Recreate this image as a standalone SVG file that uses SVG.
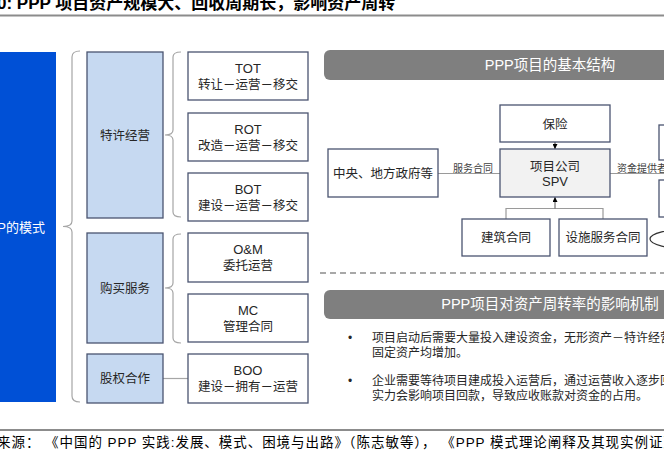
<svg xmlns="http://www.w3.org/2000/svg" width="664" height="461" viewBox="0 0 664 461">
<style>
text{font-family:"Liberation Sans","Noto Sans CJK SC",sans-serif;fill:#262626}
.t{font-size:13px;text-anchor:middle}
.c{font-size:12.5px;text-anchor:middle}
.cat{fill:#c6d9f1;stroke:#4a5470;stroke-width:1.3}
.box{fill:#fff;stroke:#4a5470;stroke-width:1.3}
.brk{fill:none;stroke:#a6a6a6;stroke-width:1.2}
.ln{fill:none;stroke:#9a9a9a;stroke-width:1.2}
.hdr{fill:#7f7f7f}
.ht{font-size:14.5px;fill:#fff;text-anchor:middle}
.lbl{font-size:10px;fill:#404040}
.bt{font-size:12px}
.rule{stroke:#8c8c8c;stroke-width:2}
</style>
<defs>
<marker id="ah" viewBox="0 0 10 10" refX="10" refY="5" markerWidth="5" markerHeight="5" orient="auto-start-reverse" markerUnits="userSpaceOnUse">
<path d="M0,0L10,5L0,10z" fill="#000"/>
</marker>
</defs>
<text x="-3" y="9" style="font-size:17px;font-weight:bold;fill:#000">0: PPP 项目资产规模大、回收周期长，影响资产周转</text>
<line class="rule" x1="0" y1="15.5" x2="664" y2="15.5"/>

<g id="ppp-mode">
<rect x="-10" y="52" width="66" height="350" fill="#0050d6"/>
<text x="45" y="231.5" style="font-size:13px;fill:#fff;text-anchor:end">PPP的模式</text>
</g>

<g id="brackets">
<path class="brk" d="M80,51 Q72,51 72,57 L72,221 Q72,226.5 63,226.5 Q72,226.5 72,232 L72,396 Q72,402 80,402"/>
<path class="brk" d="M181,52 Q173,52 173,57 L173,130 Q173,135 165,135 Q173,135 173,140 L173,212 Q173,217 181,217"/>
<path class="brk" d="M181,234 Q173,234 173,239 L173,283 Q173,288 165,288 Q173,288 173,293 L173,338 Q173,343 181,343"/>
<line class="brk" x1="163" y1="378.5" x2="188" y2="378.5"/>
</g>

<g id="cat-texu"><rect class="cat" x="87" y="52" width="76" height="166"/><text class="c" x="125" y="139.5">特许经营</text></g>
<g id="cat-goumai"><rect class="cat" x="87" y="233" width="76" height="110"/><text class="c" x="125" y="292.5">购买服务</text></g>
<g id="cat-guquan"><rect class="cat" x="87" y="354" width="76" height="49"/><text class="c" x="125" y="383">股权合作</text></g>

<g id="tot"><rect class="box" x="188" y="52" width="120" height="48"/><text class="t" x="248" y="72.5">TOT</text><text class="c" x="248" y="88.5">转让－运营－移交</text></g>
<g id="rot"><rect class="box" x="188" y="113" width="120" height="48"/><text class="t" x="248" y="134">ROT</text><text class="c" x="248" y="150">改造－运营－移交</text></g>
<g id="bot"><rect class="box" x="188" y="173" width="120" height="48"/><text class="t" x="248" y="194">BOT</text><text class="c" x="248" y="210">建设－运营－移交</text></g>
<g id="om"><rect class="box" x="188" y="233" width="120" height="49"/><text class="t" x="248" y="254">O&amp;M</text><text class="c" x="248" y="270">委托运营</text></g>
<g id="mc"><rect class="box" x="188" y="294" width="120" height="48"/><text class="t" x="248" y="315">MC</text><text class="c" x="248" y="331">管理合同</text></g>
<g id="boo"><rect class="box" x="188" y="354" width="120" height="49"/><text class="t" x="248" y="375">BOO</text><text class="c" x="248" y="391">建设－拥有－运营</text></g>

<g id="hdr1"><rect class="hdr" x="324" y="50" width="380" height="30" rx="6"/><text class="ht" x="550" y="70">PPP项目的基本结构</text></g>

<g id="connectors">
<line x1="555" y1="142" x2="555" y2="149" stroke="#333" stroke-width="1" marker-end="url(#ah)"/>
<line class="ln" x1="438" y1="173.5" x2="500" y2="173.5"/>
<line class="ln" x1="610" y1="173.5" x2="664" y2="173.5"/>
<path class="ln" d="M506,219 V208.5 H603 V219"/>
<line x1="555" y1="208.5" x2="555" y2="197" stroke="#555" stroke-width="1" marker-end="url(#ah)"/>
<text class="lbl" x="453" y="171.5">服务合同</text>
<text class="lbl" x="617" y="171.5">资金提供者</text>
</g>

<g id="baoxian"><rect class="box" x="500" y="105" width="110" height="37"/><text class="c" x="555" y="128.5">保险</text></g>
<g id="spv"><rect x="500" y="149" width="110" height="48" fill="#f2f2f2" stroke="#4a5470" stroke-width="1.3"/><text class="c" x="555" y="171">项目公司</text><text class="t" x="555" y="186">SPV</text></g>
<g id="gov"><rect class="box" x="328" y="149" width="110" height="48"/><text class="c" x="383" y="177.5">中央、地方政府等</text></g>
<g id="jianzhu"><rect class="box" x="462" y="219" width="88" height="37"/><text class="c" x="506" y="242">建筑合同</text></g>
<g id="sheshi"><rect class="box" x="559" y="219" width="88" height="37"/><text class="c" x="603" y="242">设施服务合同</text></g>
<g id="right1"><rect class="box" x="659" y="125" width="40" height="35"/></g>
<g id="right2"><rect class="box" x="659" y="180" width="40" height="37"/></g>
<g id="right3"><ellipse cx="690" cy="239" rx="40" ry="10" fill="#fff" stroke="#333" stroke-width="1.2"/></g>

<line x1="320" y1="273" x2="664" y2="273" stroke="#8c8c8c" stroke-width="1.5" stroke-dasharray="6 4"/>

<g id="hdr2"><rect class="hdr" x="324" y="290" width="380" height="29" rx="6"/><text class="ht" x="550" y="309">PPP项目对资产周转率的影响机制</text></g>

<g id="bullets">
<text class="bt" x="348" y="342">•</text>
<text class="bt" x="372" y="342">项目启动后需要大量投入建设资金，无形资产－特许经营权</text>
<text class="bt" x="372" y="356.5">固定资产均增加。</text>
<text class="bt" x="348" y="385">•</text>
<text class="bt" x="372" y="385">企业需要等待项目建成投入运营后，通过运营收入逐步回收</text>
<text class="bt" x="372" y="400">实力会影响项目回款，导致应收账款对资金的占用。</text>
</g>

<line class="rule" x1="0" y1="430" x2="664" y2="430"/>
<text x="-3" y="447" style="font-size:13.5px;letter-spacing:0.95px;fill:#000">来源： 《中国的 PPP 实践:发展、模式、困境与出路》（陈志敏等）， 《PPP 模式理论阐释及其现实例证》</text>
</svg>
